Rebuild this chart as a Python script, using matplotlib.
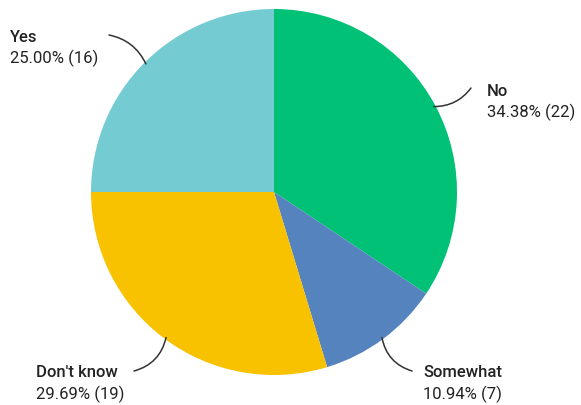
import numpy as np
import matplotlib
matplotlib.use("Agg")
import matplotlib.pyplot as plt

categories = ["No", "Somewhat", "Don't know", "Yes"]
counts = [22, 7, 19, 16]
percents = ["34.38%", "10.94%", "29.69%", "25.00%"]
colors = ["#00C176", "#5583BD", "#F8C200", "#74CBD1"]

W, H = 581, 406
fig = plt.figure(figsize=(W / 100, H / 100), dpi=100)
cx, cy, R = 274, 213, 183  # pixel centre (from bottom) and radius
ax = fig.add_axes([(cx - R) / W, (cy - R) / H, 2 * R / W, 2 * R / H])
wedges, _ = ax.pie(counts, colors=colors, startangle=90, counterclock=False,
                   radius=1.0, wedgeprops=dict(linewidth=0))
ax.set_xlim(-1, 1)
ax.set_ylim(-1, 1)
ax.set_aspect("equal")
ax.axis("off")

# label layout in figure pixels: text left x, line-1 y, leader end point, curvature
layout = {
    "No":         dict(tx=487, ty=406 - 91,  end=(471, 406 - 89),  rad=0.25),
    "Somewhat":   dict(tx=423, ty=406 - 373, end=(412, 406 - 372), rad=0.3),
    "Don't know": dict(tx=36,  ty=406 - 373, end=(134, 406 - 372), rad=-0.3),
    "Yes":        dict(tx=10,  ty=406 - 37,  end=(109, 406 - 36),  rad=0.25),
}
fam = ["Roboto", "DejaVu Sans"]
tc = "#222222"
fs = 12
for w, cat, pct, n in zip(wedges, categories, percents, counts):
    mid = np.deg2rad((w.theta1 + w.theta2) / 2)
    x0, y0 = np.cos(mid) * 0.99, np.sin(mid) * 0.99
    L = layout[cat]
    ax.annotate("", xy=L["end"], xycoords="figure pixels",
                xytext=(x0, y0), textcoords="data",
                arrowprops=dict(arrowstyle="-", color="#333333", lw=1.1,
                                shrinkA=0, shrinkB=0,
                                connectionstyle=f"arc3,rad={L['rad']}"))
    fig.text(L["tx"] / W, L["ty"] / H, cat, ha="left", va="center",
             fontsize=fs, fontweight="medium", color=tc, family=fam)
    fig.text(L["tx"] / W, (L["ty"] - 21) / H, f"{pct} ({n})", ha="left", va="center",
             fontsize=fs, color=tc, family=fam)

fig.savefig("out.png", dpi=100)
